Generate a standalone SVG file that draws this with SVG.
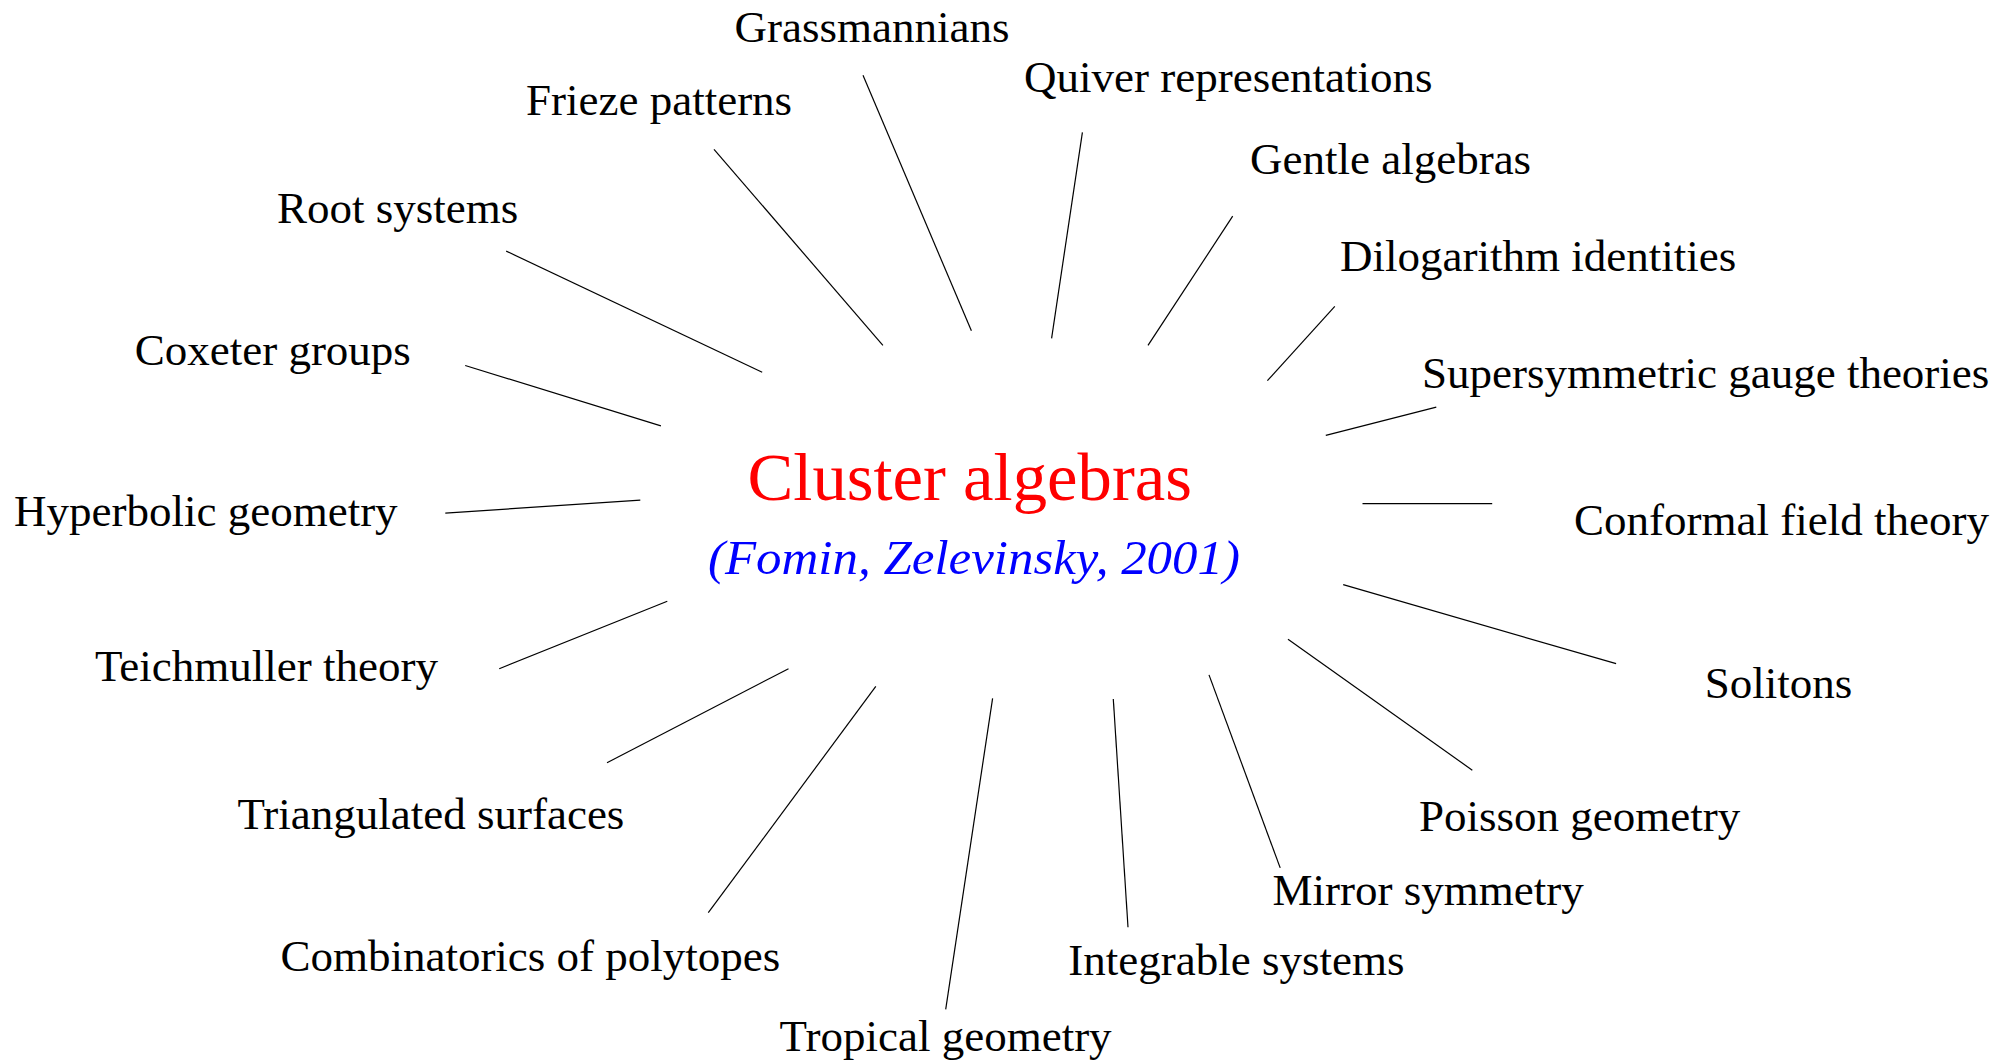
<svg xmlns="http://www.w3.org/2000/svg" width="2013" height="1064" viewBox="0 0 2013 1064">
<style>
.lbl{font-family:"Liberation Serif","Times New Roman",serif;font-size:45px;fill:#000}
.title{font-family:"Liberation Serif","Times New Roman",serif;font-size:67.5px;fill:#ff0000}
.sub{font-family:"Liberation Serif","Times New Roman",serif;font-style:italic;font-size:48px;fill:#0000ff}
.conn line{stroke:#000;stroke-width:1.2}
</style>
<rect width="2013" height="1064" fill="#fff"/>
<g id="center">
<text class="title" x="747.5" y="499.5" textLength="444.5" lengthAdjust="spacingAndGlyphs">Cluster algebras</text>
<text class="sub" x="708" y="574.4" textLength="532" lengthAdjust="spacingAndGlyphs">(Fomin, Zelevinsky, 2001)</text>
</g>
<g id="n-grassmannians"><text class="lbl" x="734.6" y="42.4">Grassmannians</text></g>
<g id="n-frieze"><text class="lbl" x="526" y="115.4">Frieze patterns</text></g>
<g id="n-root"><text class="lbl" x="277" y="223.3">Root systems</text></g>
<g id="n-coxeter"><text class="lbl" x="134.7" y="364.8">Coxeter groups</text></g>
<g id="n-hyperbolic"><text class="lbl" x="14" y="525.5">Hyperbolic geometry</text></g>
<g id="n-teichmuller"><text class="lbl" x="95" y="681.3">Teichmuller theory</text></g>
<g id="n-triangulated"><text class="lbl" x="237.4" y="828.9">Triangulated surfaces</text></g>
<g id="n-combinatorics"><text class="lbl" x="280.4" y="971.4">Combinatorics of polytopes</text></g>
<g id="n-tropical"><text class="lbl" x="779.6" y="1051.2">Tropical geometry</text></g>
<g id="n-integrable"><text class="lbl" x="1068.3" y="974.8">Integrable systems</text></g>
<g id="n-mirror"><text class="lbl" x="1272.5" y="904.6">Mirror symmetry</text></g>
<g id="n-poisson"><text class="lbl" x="1419" y="830.6">Poisson geometry</text></g>
<g id="n-solitons"><text class="lbl" x="1704.8" y="698.3">Solitons</text></g>
<g id="n-conformal"><text class="lbl" x="1574" y="535">Conformal field theory</text></g>
<g id="n-supersymmetric"><text class="lbl" x="1422" y="387.9">Supersymmetric gauge theories</text></g>
<g id="n-dilogarithm"><text class="lbl" x="1340" y="270.8">Dilogarithm identities</text></g>
<g id="n-gentle"><text class="lbl" x="1250" y="173.7">Gentle algebras</text></g>
<g id="n-quiver"><text class="lbl" x="1024" y="92.3">Quiver representations</text></g>
<g id="connectors" class="conn">
<line x1="863" y1="75.3" x2="971.4" y2="330.8"/>
<line x1="714" y1="149.3" x2="882.9" y2="345.4"/>
<line x1="506.2" y1="251.1" x2="762.2" y2="372.2"/>
<line x1="465.2" y1="365.5" x2="660.9" y2="425.9"/>
<line x1="445.3" y1="513.1" x2="640.3" y2="500.2"/>
<line x1="1082.4" y1="132.3" x2="1051.6" y2="338.3"/>
<line x1="1232.7" y1="216.2" x2="1148" y2="345.4"/>
<line x1="1334.8" y1="306.4" x2="1267.4" y2="380.7"/>
<line x1="1436.3" y1="407.2" x2="1325.8" y2="435.4"/>
<line x1="1362.5" y1="503.6" x2="1492.2" y2="503.6"/>
<line x1="499.2" y1="668.7" x2="667.3" y2="601.2"/>
<line x1="607" y1="762.7" x2="788.5" y2="668.7"/>
<line x1="708.3" y1="912.7" x2="875.8" y2="686.4"/>
<line x1="945.7" y1="1009.4" x2="992.6" y2="698.3"/>
<line x1="1343.2" y1="584.6" x2="1616.1" y2="663.7"/>
<line x1="1288" y1="639.2" x2="1472.3" y2="770.2"/>
<line x1="1209" y1="674.9" x2="1280.2" y2="867.9"/>
<line x1="1113.3" y1="699" x2="1128" y2="927.3"/>
</g>
</svg>
